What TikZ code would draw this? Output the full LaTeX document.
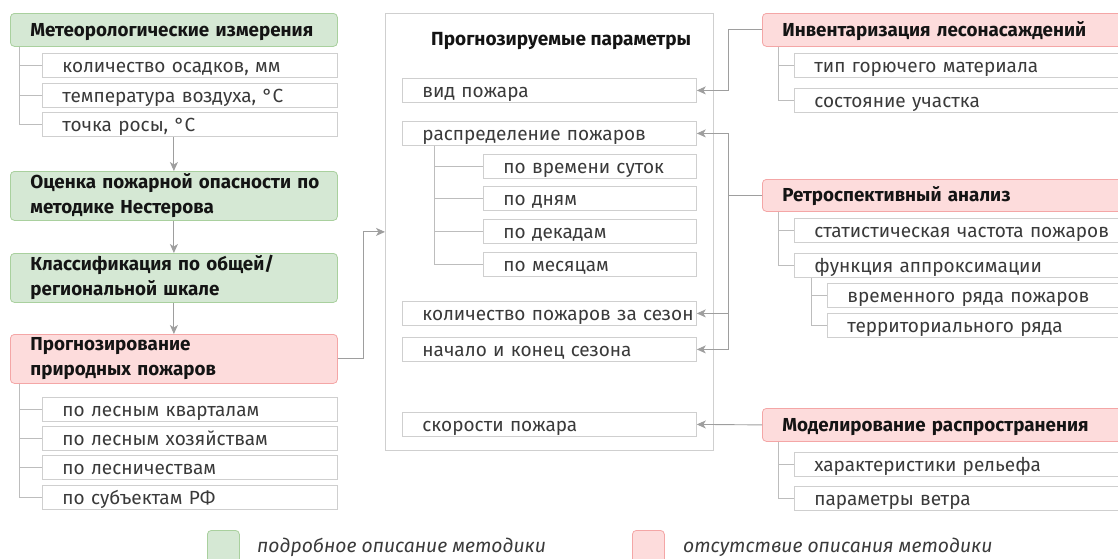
\documentclass[tikz,border=0pt]{standalone}
\usepackage{fontspec}
\setmainfont{Fira Sans}
\usetikzlibrary{arrows.meta}

\definecolor{gfill}{HTML}{D5E8D4}
\definecolor{gborder}{HTML}{A9D09E}
\definecolor{rfill}{HTML}{FDDCDC}
\definecolor{rborder}{HTML}{F4A6A6}
\definecolor{boxline}{HTML}{CFCFCF}
\definecolor{treeline}{HTML}{BDBDBD}
\definecolor{connline}{HTML}{9E9E9E}
\definecolor{itemtext}{HTML}{3A3A3A}

\tikzset{
  leftpad/.style={execute at begin node={\leftskip=20pt\rightskip=0pt plus 1fil minus 300pt\relax}},
  hbase/.style={leftpad, rounded corners=4pt, anchor=north west, inner xsep=0pt, inner ysep=0pt,
    align=left, line width=0.8pt, text=black!92,
    font=\bfseries\fontsize{18.8}{25}\selectfont},
  oneline/.style={text height=18pt, text depth=5pt, minimum height=33pt},
  greenhead/.style={hbase, draw=gborder, fill=gfill},
  redhead/.style={hbase, draw=rborder, fill=rfill},
  item/.style={leftpad, draw=boxline, fill=white, anchor=north west, inner xsep=0pt, inner ysep=0pt,
    minimum height=24pt, text height=19pt, text depth=4pt, align=left, line width=0.8pt, text=itemtext,
    font=\fontsize{19}{22}\selectfont},
  tree/.style={draw=treeline, line width=0.8pt},
  wire/.style={draw=connline, line width=0.9pt},
  conn/.style={wire, -{Stealth[length=9pt,width=8pt,inset=2.5pt]}},
  legsq/.style={draw=#1border, fill=#1fill, rounded corners=4pt, anchor=north west,
    minimum width=32pt, minimum height=40pt, inner sep=0pt, line width=0.8pt},
  legtext/.style={anchor=west, inner sep=0pt, text=itemtext, font=\itshape\fontsize{19.3}{22}\selectfont},
}

\begin{document}
\begin{tikzpicture}[x=1pt, y=-1pt]
\useasboundingbox (0,0) rectangle (1118,558);
\begin{scope}
\clip (0,0) rectangle (1118,558);

% ---- left column: from measurements to forecasting
\node[greenhead, oneline, text width=327pt] (met) at (10,13) {Метеорологические измерения};
\node[item, text width=295pt] (m1) at (42,53)  {количество осадков, мм};
\node[item, text width=295pt] (m2) at (42,83)  {температура воздуха, °C};
\node[item, text width=295pt] (m3) at (42,112) {точка росы, °C};

\node[greenhead, text width=327pt, minimum height=49pt] (ocen) at (10,171) {Оценка пожарной опасности по\\методике Нестерова};
\node[greenhead, text width=327pt, minimum height=49pt] (klas) at (10,253) {Классификация по общей/\\региональной шкале};
\node[redhead, text width=327pt, minimum height=49pt] (prog) at (10,334) {Прогнозирование\\природных пожаров};

\node[item, text width=295pt] (p1) at (42,397) {по лесным кварталам};
\node[item, text width=295pt] (p2) at (42,426) {по лесным хозяйствам};
\node[item, text width=295pt] (p3) at (42,455) {по лесничествам};
\node[item, text width=295pt] (p4) at (42,485) {по субъектам РФ};

\foreach \c in {m1,m2,m3} \draw[tree] ([xshift=9pt]met.south west) |- (\c.west);
\foreach \c in {p1,p2,p3,p4} \draw[tree] ([xshift=9pt]prog.south west) |- (\c.west);

\draw[conn] (m3.south -| ocen.north) -- (ocen.north);
\draw[conn] (ocen.south) -- (klas.north);
\draw[conn] (klas.south) -- (prog.north);

% ---- middle: forecast parameters
\node[draw=boxline, line width=0.8pt, anchor=north west, minimum width=328pt, minimum height=437pt, inner sep=0pt] (big) at (385,13) {};
\node[anchor=west, inner sep=0pt, text=black!92, font=\bfseries\fontsize{19}{22}\selectfont] (title) at (431,41) {Прогнозируемые параметры};

\node[item, text width=294pt] (vid)   at (402,78)  {вид пожара};
\node[item, text width=294pt] (raspr) at (402,121) {распределение пожаров};
\node[item, text width=213pt] (r1) at (483,154) {по времени суток};
\node[item, text width=213pt] (r2) at (483,186) {по дням};
\node[item, text width=213pt] (r3) at (483,219) {по декадам};
\node[item, text width=213pt] (r4) at (483,252) {по месяцам};
\node[item, text width=294pt] (kol)  at (402,301) {количество пожаров за сезон};
\node[item, text width=294pt] (nach) at (402,337) {начало и конец сезона};
\node[item, text width=294pt] (skor) at (402,412) {скорости пожара};

\foreach \c in {r1,r2,r3,r4} \draw[tree] ([xshift=32pt]raspr.south west) |- (\c.west);

\draw[conn] (prog.east) -- ++(26,0) |- (big.west);

% ---- right column: data sources
\node[redhead, oneline, text width=380pt] (inv) at (762,13) {Инвентаризация лесонасаждений};
\node[item, text width=350pt] (i1) at (794,53) {тип горючего материала};
\node[item, text width=350pt] (i2) at (794,88) {состояние участка};

\node[redhead, oneline, text width=380pt, minimum height=32pt] (retro) at (762,179) {Ретроспективный анализ};
\node[item, text width=350pt] (s1) at (794,218) {статистическая частота пожаров};
\node[item, text width=350pt] (s2) at (794,253) {функция аппроксимации};
\node[item, text width=320pt] (f1) at (827,283) {временного ряда пожаров};
\node[item, text width=320pt] (f2) at (827,313) {территориального ряда};

\node[redhead, oneline, text width=380pt] (model) at (762,408) {Моделирование распространения};
\node[item, text width=350pt] (d1) at (794,452) {характеристики рельефа};
\node[item, text width=350pt] (d2) at (794,486) {параметры ветра};

\foreach \c in {i1,i2} \draw[tree] ([xshift=16pt]inv.south west) |- (\c.west);
\foreach \c in {s1,s2} \draw[tree] ([xshift=16pt]retro.south west) |- (\c.west);
\foreach \c in {f1,f2} \draw[tree] ([xshift=17pt]s2.south west) |- (\c.west);
\foreach \c in {d1,d2} \draw[tree] ([xshift=16pt]model.south west) |- (\c.west);

\draw[conn] (inv.west) -- ++(-34,0) |- (vid.east);
\coordinate (rj) at ([xshift=-34pt]retro.west);
\draw[wire] (retro.west) -- (rj);
\draw[conn] (rj) |- (raspr.east);
\draw[conn] (rj) |- (kol.east);
\draw[conn] (rj) |- (nach.east);
\draw[conn] (model.west) -- (skor.east);

% ---- legend
\node[legsq=g] (lg) at (207,530) {};
\node[legtext] (lgt) at (257,547) {подробное описание методики};
\node[legsq=r] (lr) at (632,530) {};
\node[legtext] (lrt) at (683,547) {отсутствие описания методики};
\end{scope}
\end{tikzpicture}
\end{document}
